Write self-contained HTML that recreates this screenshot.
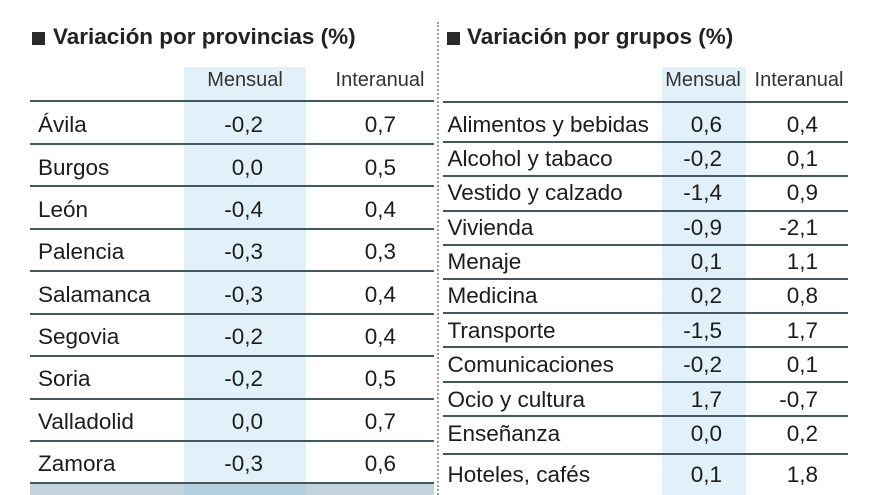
<!DOCTYPE html>
<html>
<head>
<meta charset="utf-8">
<style>
html,body{margin:0;padding:0;}
body{width:880px;height:495px;position:relative;overflow:hidden;background:#fff;font-family:"Liberation Sans",Arial,sans-serif;color:#1c1c1c;}
.a{position:absolute;white-space:nowrap;height:30px;line-height:30px;}
.t{font-size:22.5px;}
.h{font-size:20px;color:#333;}
.ttl{font-size:22.5px;font-weight:bold;color:#222;}
.r{text-align:right;width:80px;}
.c{text-align:center;width:120px;}
.ln{position:absolute;height:2px;background:#42585c;}
.sq{position:absolute;width:13px;height:13px;background:#2a2a2a;}
</style>
</head>
<body>
<!-- blue columns -->
<div style="position:absolute;left:184px;top:67px;width:122px;height:428px;background:#e2f0f9;"></div>
<div style="position:absolute;left:662px;top:67px;width:84px;height:428px;background:#e2f0f9;"></div>
<!-- bottom band left -->
<div style="position:absolute;left:30px;top:483px;width:404px;height:12px;background:#c3d3dd;"></div>
<div style="position:absolute;left:184px;top:483px;width:122px;height:12px;background:#b6cfdf;"></div>

<!-- dotted separator -->
<div style="position:absolute;left:437px;top:22px;width:0;height:473px;border-left:2px dotted #9a9a9a;"></div>

<!-- titles -->
<div class="sq" style="left:32px;top:32px;"></div>
<div class="a ttl" style="left:53px;top:22px;">Variación por provincias (%)</div>
<div class="sq" style="left:447px;top:32px;"></div>
<div class="a ttl" style="left:467px;top:22px;">Variación por grupos (%)</div>

<!-- headers -->
<div class="a h c" style="left:185px;top:65px;">Mensual</div>
<div class="a h c" style="left:320px;top:65px;">Interanual</div>
<div class="a h c" style="left:643px;top:65px;">Mensual</div>
<div class="a h c" style="left:739px;top:65px;">Interanual</div>

<!-- left lines -->
<div class="ln" style="left:30px;width:404px;top:100px;"></div>
<div class="ln" style="left:30px;width:404px;top:142.5px;"></div>
<div class="ln" style="left:30px;width:404px;top:185px;"></div>
<div class="ln" style="left:30px;width:404px;top:227.5px;"></div>
<div class="ln" style="left:30px;width:404px;top:270px;"></div>
<div class="ln" style="left:30px;width:404px;top:312.5px;"></div>
<div class="ln" style="left:30px;width:404px;top:355px;"></div>
<div class="ln" style="left:30px;width:404px;top:397.5px;"></div>
<div class="ln" style="left:30px;width:404px;top:440px;"></div>
<div class="ln" style="left:30px;width:404px;top:481.5px;"></div>

<!-- right lines -->
<div class="ln" style="left:443px;width:405px;top:100.7px;"></div>
<div class="ln" style="left:443px;width:405px;top:140.7px;"></div>
<div class="ln" style="left:443px;width:405px;top:175px;"></div>
<div class="ln" style="left:443px;width:405px;top:209.5px;"></div>
<div class="ln" style="left:443px;width:405px;top:244px;"></div>
<div class="ln" style="left:443px;width:405px;top:278px;"></div>
<div class="ln" style="left:443px;width:405px;top:312px;"></div>
<div class="ln" style="left:443px;width:405px;top:346.3px;"></div>
<div class="ln" style="left:443px;width:405px;top:380.7px;"></div>
<div class="ln" style="left:443px;width:405px;top:415px;"></div>
<div class="ln" style="left:443px;width:405px;top:453px;"></div>

<!-- left rows -->
<div class="a t" style="left:38px;top:110.2px;">Ávila</div>
<div class="a t r" style="left:183px;top:110.2px;">-0,2</div>
<div class="a t r" style="left:316px;top:110.2px;">0,7</div>

<div class="a t" style="left:38px;top:152.5px;">Burgos</div>
<div class="a t r" style="left:183px;top:152.5px;">0,0</div>
<div class="a t r" style="left:316px;top:152.5px;">0,5</div>

<div class="a t" style="left:38px;top:194.8px;">León</div>
<div class="a t r" style="left:183px;top:194.8px;">-0,4</div>
<div class="a t r" style="left:316px;top:194.8px;">0,4</div>

<div class="a t" style="left:38px;top:237.2px;">Palencia</div>
<div class="a t r" style="left:183px;top:237.2px;">-0,3</div>
<div class="a t r" style="left:316px;top:237.2px;">0,3</div>

<div class="a t" style="left:38px;top:279.5px;">Salamanca</div>
<div class="a t r" style="left:183px;top:279.5px;">-0,3</div>
<div class="a t r" style="left:316px;top:279.5px;">0,4</div>

<div class="a t" style="left:38px;top:321.8px;">Segovia</div>
<div class="a t r" style="left:183px;top:321.8px;">-0,2</div>
<div class="a t r" style="left:316px;top:321.8px;">0,4</div>

<div class="a t" style="left:38px;top:364.2px;">Soria</div>
<div class="a t r" style="left:183px;top:364.2px;">-0,2</div>
<div class="a t r" style="left:316px;top:364.2px;">0,5</div>

<div class="a t" style="left:38px;top:406.5px;">Valladolid</div>
<div class="a t r" style="left:183px;top:406.5px;">0,0</div>
<div class="a t r" style="left:316px;top:406.5px;">0,7</div>

<div class="a t" style="left:38px;top:448.8px;">Zamora</div>
<div class="a t r" style="left:183px;top:448.8px;">-0,3</div>
<div class="a t r" style="left:316px;top:448.8px;">0,6</div>

<!-- right rows -->
<div class="a t" style="left:447.5px;top:109.7px;">Alimentos y bebidas</div>
<div class="a t r" style="left:642px;top:109.7px;">0,6</div>
<div class="a t r" style="left:738px;top:109.7px;">0,4</div>

<div class="a t" style="left:447.5px;top:144.2px;">Alcohol y tabaco</div>
<div class="a t r" style="left:642px;top:144.2px;">-0,2</div>
<div class="a t r" style="left:738px;top:144.2px;">0,1</div>

<div class="a t" style="left:447.5px;top:178.2px;">Vestido y calzado</div>
<div class="a t r" style="left:642px;top:178.2px;">-1,4</div>
<div class="a t r" style="left:738px;top:178.2px;">0,9</div>

<div class="a t" style="left:447.5px;top:212.7px;">Vivienda</div>
<div class="a t r" style="left:642px;top:212.7px;">-0,9</div>
<div class="a t r" style="left:738px;top:212.7px;">-2,1</div>

<div class="a t" style="left:447.5px;top:246.7px;">Menaje</div>
<div class="a t r" style="left:642px;top:246.7px;">0,1</div>
<div class="a t r" style="left:738px;top:246.7px;">1,1</div>

<div class="a t" style="left:447.5px;top:281.2px;">Medicina</div>
<div class="a t r" style="left:642px;top:281.2px;">0,2</div>
<div class="a t r" style="left:738px;top:281.2px;">0,8</div>

<div class="a t" style="left:447.5px;top:315.7px;">Transporte</div>
<div class="a t r" style="left:642px;top:315.7px;">-1,5</div>
<div class="a t r" style="left:738px;top:315.7px;">1,7</div>

<div class="a t" style="left:447.5px;top:350.2px;">Comunicaciones</div>
<div class="a t r" style="left:642px;top:350.2px;">-0,2</div>
<div class="a t r" style="left:738px;top:350.2px;">0,1</div>

<div class="a t" style="left:447.5px;top:384.7px;">Ocio y cultura</div>
<div class="a t r" style="left:642px;top:384.7px;">1,7</div>
<div class="a t r" style="left:738px;top:384.7px;">-0,7</div>

<div class="a t" style="left:447.5px;top:419.2px;">Enseñanza</div>
<div class="a t r" style="left:642px;top:419.2px;">0,0</div>
<div class="a t r" style="left:738px;top:419.2px;">0,2</div>

<div class="a t" style="left:447.5px;top:460.2px;">Hoteles, cafés</div>
<div class="a t r" style="left:642px;top:460.2px;">0,1</div>
<div class="a t r" style="left:738px;top:460.2px;">1,8</div>
</body>
</html>
